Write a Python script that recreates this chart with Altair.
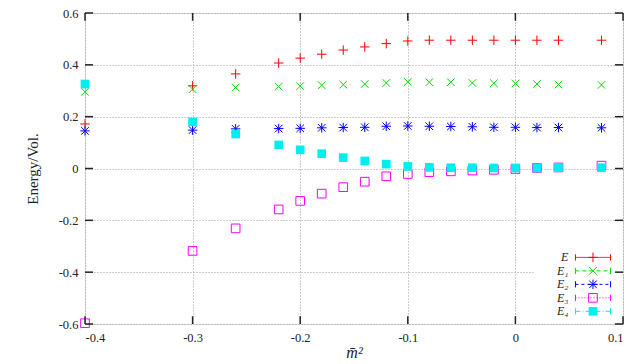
import altair as alt
import pandas as pd

# ---- data ----
m2 = [-0.4, -0.3, -0.26, -0.22, -0.2, -0.18, -0.16, -0.14, -0.12, -0.1,
      -0.08, -0.06, -0.04, -0.02, 0.0, 0.02, 0.04, 0.08]
series_names = ["E", "E₁", "E₂", "E₃", "E₄"]
E = [0.172, 0.319, 0.365, 0.407, 0.426, 0.441, 0.457, 0.469, 0.482, 0.492,
     0.495, 0.495, 0.495, 0.495, 0.495, 0.495, 0.495, 0.495]
E1 = [0.296, 0.306, 0.3125, 0.316, 0.318, 0.3215, 0.324, 0.326, 0.330, 0.334,
      0.333, 0.333, 0.330, 0.329, 0.328, 0.326, 0.324, 0.3225]
E2 = [0.145, 0.148, 0.153, 0.154, 0.155, 0.157, 0.158, 0.159, 0.163, 0.164,
      0.163, 0.162, 0.161, 0.159, 0.159, 0.158, 0.158, 0.157]
E3 = [-0.597, -0.318, -0.231, -0.158, -0.125, -0.097, -0.072, -0.051, -0.030, -0.021,
      -0.014, -0.011, -0.008, -0.005, -0.002, 0.002, 0.004, 0.011]
E4 = [0.326, 0.180, 0.133, 0.091, 0.072, 0.057, 0.042, 0.029, 0.017, 0.008,
      0.0045, 0.003, 0.003, 0.002, 0.002, 0.002, 0.003, 0.003]
x_ticks = [-0.4, -0.3, -0.2, -0.1, 0.0, 0.1]
y_ticks = [-0.6, -0.4, -0.2, 0.0, 0.2, 0.4, 0.6]

series_values = [E, E1, E2, E3, E4]
colors = ["#ff0000", "#00dd00", "#0000ff", "#ff00ff", "#00eeee"]
plus = "M-1,0H1M0,-1V1"
cross = "M-0.8,-0.8L0.8,0.8M-0.8,0.8L0.8,-0.8"
star = plus + cross
styles = [
    dict(shape=plus, filled=False, size=90, dash=[1, 0]),
    dict(shape=cross, filled=False, size=90, dash=[4, 3]),
    dict(shape=star, filled=False, size=90, dash=[3, 3]),
    dict(shape="square", filled=False, size=75, dash=[1, 2]),
    dict(shape="square", filled=True, size=75, dash=[5, 2, 1, 2]),
]

FONT = "Liberation Serif"
XD = [-0.4, 0.1]
YD = [-0.6, 0.6]
xs = alt.Scale(domain=XD, nice=False, zero=False)
ys = alt.Scale(domain=YD, nice=False, zero=False)

PW, PH = 538, 311

lab_expr = "datum.value == 0 ? '0' : (datum.value < 0 ? '-' : '') + format(abs(datum.value), '.1f')"

x_axis = alt.Axis(values=x_ticks, tickSize=0, domain=False, grid=True,
                  gridDash=[1, 2], gridColor="#9a9a9a", labelFont=FONT,
                  labelFontSize=12.5, labelPadding=7, labelColor="#222",
                  labelExpr=lab_expr, title="m̄²", titleFont=FONT,
                  titleFontSize=16, titleFontWeight="normal", titleFontStyle="italic",
                  titleY=33, titleBaseline="alphabetic", titleColor="#222")
y_axis = alt.Axis(values=y_ticks, tickSize=0, domain=False, grid=True,
                  gridDash=[1, 2], gridColor="#9a9a9a", labelFont=FONT,
                  labelFontSize=12.5, labelPadding=7, labelColor="#222",
                  labelExpr=lab_expr, title="Energy/Vol.", titleFont=FONT,
                  titleFontSize=15, titleFontWeight="normal", titleX=-48, titleY=PH / 2,
                  titleAngle=-90, titleAlign="center", titleBaseline="alphabetic",
                  titleColor="#222")

# base layer carrying the axes (grid)
grid_df = pd.DataFrame({"x": XD, "y": YD})
base = alt.Chart(grid_df).mark_point(opacity=0).encode(
    x=alt.X("x:Q", scale=xs, axis=x_axis),
    y=alt.Y("y:Q", scale=ys, axis=y_axis),
)

layers = [base]

# data points
for name, vals, col, st in zip(series_names, series_values, colors, styles):
    df = pd.DataFrame({"x": m2, "y": vals})
    layers.append(
        alt.Chart(df).mark_point(shape=st["shape"], filled=st["filled"], size=st["size"],
                                 color=col, strokeWidth=1, opacity=1).encode(
            x=alt.X("x:Q", scale=xs), y=alt.Y("y:Q", scale=ys))
    )

# legend box (white background)
box_df = pd.DataFrame({"x": [0.017], "x2": [0.1], "y": [-0.31], "y2": [-0.6]})
layers.append(alt.Chart(box_df).mark_rect(color="white", opacity=1).encode(
    x=alt.X("x:Q", scale=xs), x2="x2:Q", y=alt.Y("y:Q", scale=ys), y2="y2:Q"))

# legend entries
lx0, lx1, lxm, ltx = 0.0558, 0.0884, 0.0721, 0.0493
for i, (name, col, st) in enumerate(zip(series_names, colors, styles)):
    yy = -0.343 - 0.052 * i
    ldf = pd.DataFrame({"x": [lx0], "x2": [lx1], "y": [yy]})
    layers.append(alt.Chart(ldf).mark_rule(color=col, strokeWidth=1, strokeDash=st["dash"]).encode(
        x=alt.X("x:Q", scale=xs), x2="x2:Q", y=alt.Y("y:Q", scale=ys)))
    cdf = pd.DataFrame({"x": [lx0, lx1], "y": [yy - 0.012] * 2, "y2": [yy + 0.012] * 2})
    layers.append(alt.Chart(cdf).mark_rule(color=col, strokeWidth=1).encode(
        x=alt.X("x:Q", scale=xs), y=alt.Y("y:Q", scale=ys), y2="y2:Q"))
    mdf = pd.DataFrame({"x": [lxm], "y": [yy]})
    layers.append(alt.Chart(mdf).mark_point(shape=st["shape"], filled=st["filled"], size=st["size"],
                                            color=col, strokeWidth=1, opacity=1).encode(
        x=alt.X("x:Q", scale=xs), y=alt.Y("y:Q", scale=ys)))
    tdf = pd.DataFrame({"x": [ltx], "y": [yy], "label": [name]})
    layers.append(alt.Chart(tdf).mark_text(align="right", baseline="middle", font=FONT,
                                           fontSize=12, fontStyle="italic", color="#222").encode(
        x=alt.X("x:Q", scale=xs), y=alt.Y("y:Q", scale=ys), text="label:N"))

# inward ticks on all four sides
tlx, tly = 0.0075, 0.03
xt = pd.DataFrame({"x": x_ticks * 2,
                   "y": [YD[0]] * len(x_ticks) + [YD[1]] * len(x_ticks),
                   "y2": [YD[0] + tly] * len(x_ticks) + [YD[1] - tly] * len(x_ticks)})
yt = pd.DataFrame({"y": y_ticks * 2,
                   "x": [XD[0]] * len(y_ticks) + [XD[1]] * len(y_ticks),
                   "x2": [XD[0] + tlx] * len(y_ticks) + [XD[1] - tlx] * len(y_ticks)})
layers.append(alt.Chart(xt).mark_rule(color="#222", strokeWidth=1.5).encode(
    x=alt.X("x:Q", scale=xs), y=alt.Y("y:Q", scale=ys), y2="y2:Q"))
layers.append(alt.Chart(yt).mark_rule(color="#222", strokeWidth=1.5).encode(
    y=alt.Y("y:Q", scale=ys), x=alt.X("x:Q", scale=xs), x2="x2:Q"))

chart = alt.layer(*layers).properties(
    width=PW, height=PH,
    autosize=alt.AutoSizeParams(type="none"),
    padding={"left": 77, "top": 5, "right": 5, "bottom": 38},
).configure_view(stroke="#111", strokeWidth=1.5).configure(background="white")

chart.save("out.html", embed_options={"renderer": "svg", "actions": False})
